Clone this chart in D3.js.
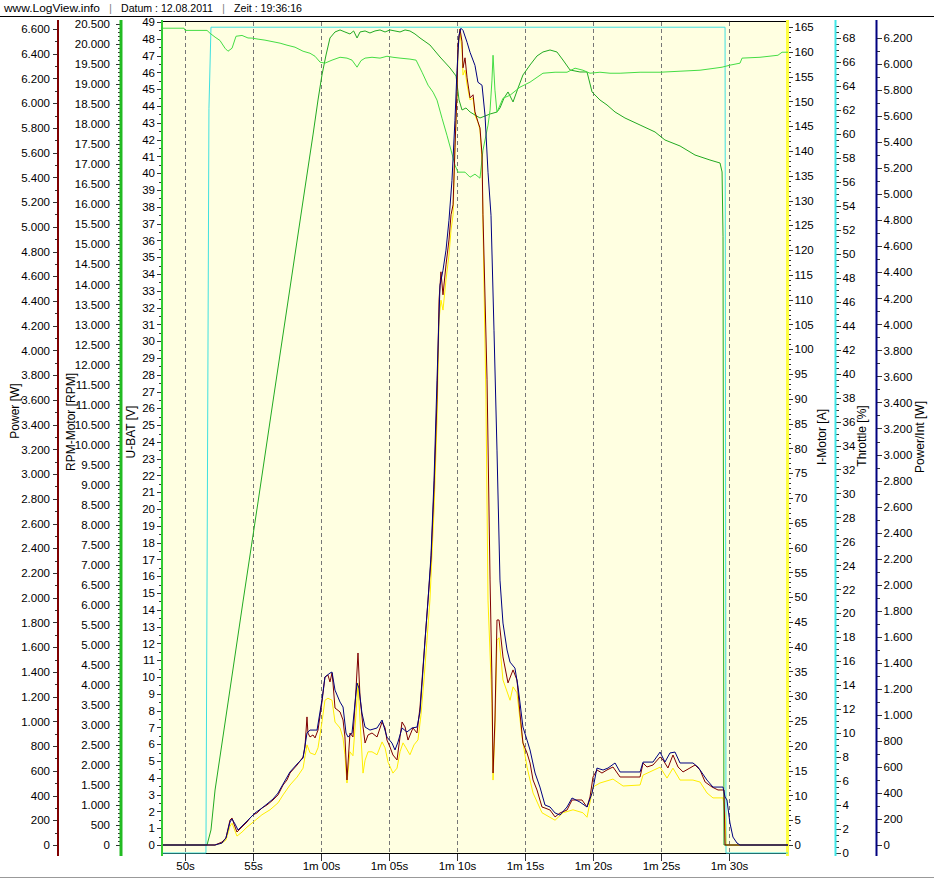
<!DOCTYPE html>
<html>
<head>
<meta charset="utf-8">
<script src="https://cdn.jsdelivr.net/npm/d3@7"></script>
<style>
    body { margin: 0; background: #fff; }
    svg { display: block; font-family: "Liberation Sans", Arial, sans-serif; }
    .tick text { font-family: "Liberation Sans Narrow", "Liberation Sans", Arial, sans-serif; font-size: 11.5px; fill: #000; }
    .tick line { stroke: #333; shape-rendering: crispEdges; }
    .line { fill: none; stroke-width: 1; }
</style>
</head>
<body>
<script>
// ---- data ----
// each series is [time in seconds, value]
var powerData = [[48.38,0],[52.2,0],[52.72,24],[53.01,57],[53.31,202],[53.46,218],[53.6,170],[53.82,105],[54.19,146],[54.56,186],[54.78,218],[55.0,243],[55.29,259],[55.66,299],[56.03,324],[56.47,364],[56.84,405],[57.21,485],[57.5,526],[57.72,582],[58.24,647],[58.68,712],[58.82,793],[58.97,1036],[59.04,906],[59.19,874],[59.41,890],[59.56,866],[59.78,930],[60.07,1157],[60.29,1359],[60.51,1375],[60.66,1319],[60.81,1391],[60.88,1311],[61.03,1108],[61.4,1076],[61.62,1011],[61.76,874],[61.91,526],[62.13,906],[62.35,874],[62.57,1254],[62.72,1553],[62.87,1197],[63.09,955],[63.24,825],[63.46,890],[63.75,906],[64.12,874],[64.49,995],[64.71,947],[64.85,849],[65.07,793],[65.29,728],[65.59,688],[65.81,874],[65.96,995],[66.18,955],[66.4,849],[66.76,947],[67.06,906],[67.28,1116],[67.5,1440],[67.65,1658],[67.87,1982],[68.09,2306],[68.31,2872],[68.53,3600],[68.68,4409],[68.82,4636],[68.97,4450],[69.19,4692],[69.41,4894],[69.56,5097],[69.71,5178],[69.85,5639],[70.0,6092],[70.07,6472],[70.22,6600],[70.37,6496],[70.44,6286],[70.59,6367],[70.74,6205],[70.96,6043],[71.18,6068],[71.32,5930],[71.54,5849],[71.69,5800],[71.84,5582],[71.91,5097],[72.21,3762],[72.43,2144],[72.57,1335],[72.65,582],[72.79,1011],[72.94,1820],[73.09,1820],[73.38,1521],[73.75,1311],[74.12,1416],[74.41,1335],[74.63,1068],[74.85,825],[75.15,744],[75.37,663],[75.59,526],[75.88,445],[76.25,307],[76.47,299],[76.84,283],[77.21,227],[77.57,259],[78.09,283],[78.46,364],[78.82,364],[79.19,364],[79.56,307],[79.78,388],[80.0,550],[80.29,607],[80.66,582],[81.03,607],[81.47,631],[81.99,550],[82.72,550],[83.46,550],[83.68,663],[83.97,631],[84.41,647],[84.93,712],[85.15,688],[85.51,623],[85.88,728],[86.25,631],[86.62,591],[87.13,623],[87.5,647],[87.87,607],[88.24,510],[88.75,469],[89.19,445],[89.63,445],[89.71,0],[94.34,0]];

var rpmData = [[48.38,0],[51.62,0],[51.91,375],[52.21,1373],[53.16,3546],[54.26,6068],[55.37,8565],[56.54,11237],[57.72,13908],[58.82,16405],[59.41,17729],[59.78,18603],[60.07,19227],[60.37,19726],[60.66,20151],[61.03,20301],[61.4,20351],[61.76,20301],[62.13,20251],[62.4,20326],[62.65,20151],[62.87,20301],[63.24,20326],[63.6,20276],[63.97,20326],[64.34,20351],[64.71,20301],[65.07,20351],[65.44,20326],[65.81,20301],[66.18,20351],[66.54,20326],[66.91,20251],[67.28,20151],[68.01,19976],[68.75,19676],[69.49,19401],[69.93,19202],[70.15,18603],[70.37,18353],[70.66,18403],[70.96,18303],[71.32,18228],[71.69,18153],[72.06,18203],[72.43,18253],[72.94,18303],[73.16,18403],[73.46,18653],[73.75,18803],[74.12,18553],[74.49,18903],[74.85,19227],[75.37,19477],[75.88,19701],[76.32,19801],[76.84,19851],[77.35,19801],[77.79,19601],[78.31,19352],[79.04,19302],[79.56,19302],[79.93,18803],[80.51,18603],[81.03,18478],[81.62,18303],[82.35,18153],[83.46,17978],[84.56,17804],[85.29,17604],[86.4,17454],[87.5,17229],[88.6,17104],[89.34,17029],[89.49,16805],[89.56,15200],[89.63,0],[94.34,0]];

var ubatData = [[48.38,48.63],[49.93,48.63],[50.0,48.5],[51.62,48.5],[51.84,48.33],[52.21,48.1],[52.57,47.9],[52.94,47.44],[53.16,47.26],[53.46,47.44],[53.75,48.15],[54.19,48.2],[54.63,48.05],[54.93,48.04],[55.37,47.98],[55.88,47.92],[56.25,47.86],[56.62,47.8],[56.99,47.74],[57.5,47.62],[58.09,47.5],[58.68,47.26],[59.19,47.14],[59.56,46.96],[59.93,46.61],[60.29,46.55],[60.81,46.73],[61.4,46.9],[61.91,46.85],[62.28,46.73],[62.65,46.31],[62.94,46.7],[63.24,46.85],[63.75,46.9],[64.34,46.85],[64.85,46.96],[65.29,46.9],[65.81,46.85],[66.54,46.79],[66.99,46.73],[67.43,46.01],[67.87,45.24],[68.24,44.82],[68.53,44.35],[68.9,43.27],[69.26,42.26],[69.56,41.37],[69.85,40.48],[70.07,40.06],[70.59,40.06],[70.96,39.76],[71.32,39.94],[71.69,39.7],[71.91,41.37],[72.28,42.86],[72.43,43.75],[72.57,45.54],[72.65,47.02],[72.79,44.94],[72.94,43.63],[73.38,44.46],[73.9,44.64],[74.63,45.12],[75.37,45.42],[76.32,45.95],[77.21,46.01],[78.09,46.01],[78.68,46.25],[79.26,46.13],[79.78,45.95],[80.51,46.01],[81.25,45.95],[81.99,45.95],[83.46,46.01],[84.93,46.01],[86.4,46.07],[87.87,46.13],[88.97,46.25],[89.49,46.31],[90.07,46.43],[90.81,46.55],[90.96,46.85],[92.28,46.9],[93.6,47.02],[93.9,47.2],[94.34,47.2]];

var currentData = [[48.38,0],[52.21,0],[52.72,0.4],[53.01,1.0],[53.31,3.8],[53.46,4.4],[53.6,3.4],[53.82,1.8],[54.19,2.6],[54.56,3.6],[55.0,4.6],[55.66,6.1],[56.25,7.1],[56.84,8.5],[57.21,10.1],[57.72,12.1],[58.24,13.7],[58.68,15.5],[58.97,20.2],[59.19,18.6],[59.56,18.2],[59.78,19.6],[60.07,24.8],[60.29,29.2],[60.51,29.6],[60.81,29.2],[61.03,24.8],[61.4,23.6],[61.62,21.6],[61.76,18.2],[61.91,12.5],[62.13,18.8],[62.35,18.0],[62.57,26.2],[62.72,32.7],[62.87,25.2],[63.09,14.5],[63.24,17.1],[63.46,18.8],[63.75,18.8],[64.12,18.2],[64.49,20.8],[64.71,19.6],[64.93,16.7],[65.29,14.5],[65.59,15.5],[65.81,18.8],[66.03,20.6],[66.25,19.6],[66.54,18.2],[66.84,20.2],[67.13,21.2],[67.35,26.2],[67.57,33.3],[67.79,41.3],[68.01,49.4],[68.31,67.6],[68.53,85.7],[68.68,105.9],[68.82,109.9],[68.97,107.9],[69.19,114.0],[69.41,119.0],[69.56,124.0],[69.71,127.1],[69.85,140.2],[70.0,151.3],[70.07,160.4],[70.22,164.0],[70.37,160.4],[70.44,155.3],[70.59,156.3],[70.74,153.3],[70.96,150.3],[71.18,150.7],[71.32,147.2],[71.54,145.8],[71.69,144.2],[71.84,138.2],[71.91,125.1],[72.13,89.8],[72.28,49.4],[72.57,28.6],[72.65,13.1],[72.79,23.2],[72.94,41.3],[73.09,41.8],[73.38,33.3],[73.9,29.2],[74.12,31.9],[74.41,30.7],[74.78,21.8],[75.15,15.7],[75.59,10.5],[76.25,6.5],[77.21,5.0],[77.79,6.5],[78.53,7.1],[79.26,6.5],[79.56,5.6],[80.0,11.7],[80.51,12.5],[81.47,13.3],[82.21,11.9],[83.46,12.1],[83.68,14.1],[84.93,15.7],[85.44,13.5],[85.88,15.5],[86.4,13.1],[87.35,13.1],[87.87,12.7],[88.38,10.5],[88.82,9.5],[89.56,9.5],[89.71,6.1],[89.78,0],[94.34,0]];

var throttleData = [[48.38,0],[51.54,0],[51.76,62.1],[51.91,68.9],[89.71,68.9],[89.78,0],[94.34,0]];

var powerIntData = [[48.38,0],[52.21,0],[52.72,15],[53.01,54],[53.31,177],[53.46,200],[53.68,161],[53.9,115],[54.19,146],[54.56,184],[54.78,207],[55.15,246],[55.66,284],[56.03,315],[56.47,353],[56.84,399],[57.21,468],[57.72,561],[58.24,622],[58.68,668],[58.97,860],[59.19,883],[59.71,883],[60.07,1114],[60.29,1290],[60.66,1321],[60.81,1329],[61.03,1190],[61.4,1098],[61.62,1060],[61.84,860],[61.99,829],[62.28,860],[62.65,1244],[62.79,1206],[63.01,1014],[63.24,906],[63.6,883],[64.12,899],[64.49,960],[64.85,829],[65.22,783],[65.44,730],[65.66,791],[65.96,899],[66.32,868],[66.69,899],[67.06,906],[67.28,1021],[67.5,1344],[67.65,1574],[67.87,1882],[68.09,2227],[68.31,2803],[68.53,3571],[68.75,4301],[68.97,4416],[69.19,4570],[69.41,4800],[69.63,5107],[69.85,5568],[70.0,5952],[70.15,6221],[70.29,6275],[70.44,6259],[70.74,6167],[70.96,6090],[71.32,5990],[71.54,5860],[71.84,5837],[72.06,5606],[72.28,5169],[72.5,4838],[72.72,3955],[72.94,3034],[73.16,2035],[73.38,1705],[73.68,1498],[73.9,1405],[74.26,1359],[74.49,1213],[74.85,906],[75.15,806],[75.37,730],[75.74,553],[76.1,445],[76.47,307],[76.84,292],[77.21,246],[77.57,230],[78.09,292],[78.46,361],[79.04,330],[79.56,292],[79.93,399],[80.29,591],[80.74,576],[81.1,591],[81.62,630],[81.99,561],[83.46,561],[83.68,637],[84.41,637],[84.93,714],[85.29,637],[85.66,707],[86.03,714],[86.4,630],[87.35,630],[87.72,599],[88.38,499],[88.82,445],[89.56,445],[89.71,369],[89.85,346],[90.07,169],[90.29,61],[90.59,15],[90.81,0],[94.34,0]];

// tick values / labels
var xTickValues = [50, 55, 60, 65, 70, 75, 80, 85, 90];
var xTickLabels = ["50s", "55s", "1m 00s", "1m 05s", "1m 10s", "1m 15s", "1m 20s", "1m 25s", "1m 30s"];
var xMinorTicks = d3.range(48.75, 94.3, 1.25);
var powerTicks = d3.range(0, 6601, 200);
var rpmTicks = d3.range(0, 20501, 500);
var ubatTicks = d3.range(0, 50, 1);
var currentTicks = d3.range(0, 166, 5);
var throttleTicks = d3.range(0, 69, 2);
var powerIntTicks = d3.range(0, 6201, 200);

var headerParts = ["www.LogView.info", "|", "Datum : 12.08.2011", "|", "Zeit : 19:36:16"];

// ---- layout ----
var width = 934, height = 879;
var plot = {left: 163, right: 787, top: 22, bottom: 853};

var svg = d3.select("body").append("svg")
    .attr("width", width)
    .attr("height", height);

// german number format: 6.600
var de = d3.formatLocale({decimal: ",", thousands: ".", grouping: [3], currency: ["", " €"]});
var fmt = de.format(",d");

// scales
var x = d3.scaleLinear().domain([48.382, 94.338]).range([163, 788]);
var yPower = d3.scaleLinear().domain([0, 6600]).range([845, 29]);
var yRpm = d3.scaleLinear().domain([0, 20500]).range([845, 24]);
var yUbat = d3.scaleLinear().domain([0, 49]).range([845, 22]);
var yCurrent = d3.scaleLinear().domain([0, 165]).range([845, 27]);
var yThrottle = d3.scaleLinear().domain([0, 68]).range([853, 38]);
var yPowerInt = d3.scaleLinear().domain([0, 6200]).range([845, 38]);

// header (start x and width of every piece)
var header = svg.append("g").attr("font-size", 11);
var headerX = [4, 109, 121, 222, 234];
var headerW = [96, 3, 92, 3, 68];
headerParts.forEach(function (d, i) {
    header.append("text")
        .attr("x", headerX[i])
        .attr("y", 12)
        .attr("fill", d === "|" ? "#888" : "#000")
        .attr("textLength", headerW[i])
        .attr("lengthAdjust", "spacingAndGlyphs")
        .text(d);
});
svg.append("line")
    .attr("x1", 0).attr("x2", width)
    .attr("y1", 16.5).attr("y2", 16.5)
    .attr("stroke", "#000");

// plot background
svg.append("rect")
    .attr("x", plot.left)
    .attr("y", plot.top)
    .attr("width", plot.right - plot.left)
    .attr("height", plot.bottom - plot.top)
    .attr("fill", "#ffffe1");

svg.append("line")
    .attr("x1", plot.left).attr("x2", plot.right)
    .attr("y1", 21.5).attr("y2", 21.5)
    .attr("stroke", "#000");

// vertical dashed grid
svg.selectAll(".grid")
    .data(xTickValues)
    .enter()
    .append("line")
    .attr("class", "grid")
    .attr("x1", function (d) { return Math.round(x(d)) + 0.5; })
    .attr("x2", function (d) { return Math.round(x(d)) + 0.5; })
    .attr("y1", plot.top)
    .attr("y2", plot.bottom)
    .attr("stroke", "#777")
    .attr("stroke-dasharray", "4,3");

// x axis
var xAxisG = svg.append("g").attr("transform", "translate(0," + (plot.bottom + 0.5) + ")");
xAxisG.call(d3.axisBottom(x).tickValues(xMinorTicks).tickSize(4).tickFormat(""));
xAxisG.call(d3.axisBottom(x).tickValues(xTickValues).tickSize(7)
    .tickFormat(function (d, i) { return xTickLabels[i]; }));
xAxisG.selectAll(".domain").remove();
xAxisG.selectAll(".tick text").attr("dy", "0.6em");
svg.append("line")
    .attr("x1", plot.left - 1).attr("x2", plot.right)
    .attr("y1", plot.bottom + 0.5).attr("y2", plot.bottom + 0.5)
    .attr("stroke", "#000");

// y axes
function makeYAxis(opts) {
    var g = svg.append("g").attr("transform", "translate(" + opts.x + ",0)");
    var axisFn = opts.side === "left" ? d3.axisLeft : d3.axisRight;
    if (opts.minor) {
        g.append("g").call(axisFn(opts.scale).tickValues(opts.minor).tickSize(3).tickFormat(""))
            .selectAll(".domain").remove();
    }
    var major = g.append("g").call(axisFn(opts.scale).tickValues(opts.ticks).tickSize(5)
        .tickPadding(opts.pad).tickFormat(fmt));
    major.selectAll(".domain").remove();
    g.append("line")
        .attr("x1", 0).attr("x2", 0)
        .attr("y1", 20).attr("y2", 856)
        .attr("stroke", opts.color)
        .attr("stroke-width", opts.lineWidth || 2);
    svg.append("text")
        .attr("transform", "translate(" + opts.titleX + "," + opts.titleY + ") rotate(-90)")
        .attr("text-anchor", "middle")
        .attr("font-size", 12)
        .text(opts.title);
}

makeYAxis({x: 58, side: "left", scale: yPower, ticks: powerTicks, minor: d3.range(0, 6601, 100), pad: 3,
    color: "#800000", title: "Power [W]", titleX: 19, titleY: 411});
makeYAxis({x: 121, side: "left", scale: yRpm, ticks: rpmTicks, minor: d3.range(0, 20501, 100), pad: 6,
    color: "#22bb22", lineWidth: 3, title: "RPM-Motor [RPM]", titleX: 75, titleY: 422});
makeYAxis({x: 162, side: "left", scale: yUbat, ticks: ubatTicks, minor: d3.range(0, 49.01, 0.5), pad: 2,
    color: "#33cc33", lineWidth: 2, title: "U-BAT [V]", titleX: 135, titleY: 432});
makeYAxis({x: 787.5, side: "right", scale: yCurrent, ticks: currentTicks, minor: d3.range(0, 166, 1), pad: 2,
    color: "#ffff40", lineWidth: 3, title: "I-Motor [A]", titleX: 826, titleY: 437});
makeYAxis({x: 835.5, side: "right", scale: yThrottle, ticks: throttleTicks, minor: d3.range(0, 69.5, 0.5), pad: 2,
    color: "#40e8e8", lineWidth: 2, title: "Throttle [%]", titleX: 866, titleY: 436});
makeYAxis({x: 876.5, side: "right", scale: yPowerInt, ticks: powerIntTicks, minor: d3.range(0, 6201, 100), pad: 2,
    color: "#000080", lineWidth: 2, title: "Power/Int [W]", titleX: 924, titleY: 437});

// series lines
function drawLine(data, yScale, color) {
    var line = d3.line()
        .x(function (d) { return x(d[0]); })
        .y(function (d) { return yScale(d[1]); });
    svg.append("path")
        .datum(data)
        .attr("class", "line")
        .attr("stroke", color)
        .attr("d", line);
}

drawLine(throttleData, yThrottle, "#40e0e0");
drawLine(currentData, yCurrent, "#ffee00");
drawLine(rpmData, yRpm, "#22aa22");
drawLine(ubatData, yUbat, "#44dd44");
drawLine(powerData, yPower, "#800000");
drawLine(powerIntData, yPowerInt, "#000080");

// frame bottom
svg.append("line")
    .attr("x1", 0).attr("x2", width)
    .attr("y1", 877.5).attr("y2", 877.5)
    .attr("stroke", "#999");
</script>
</body>
</html>
